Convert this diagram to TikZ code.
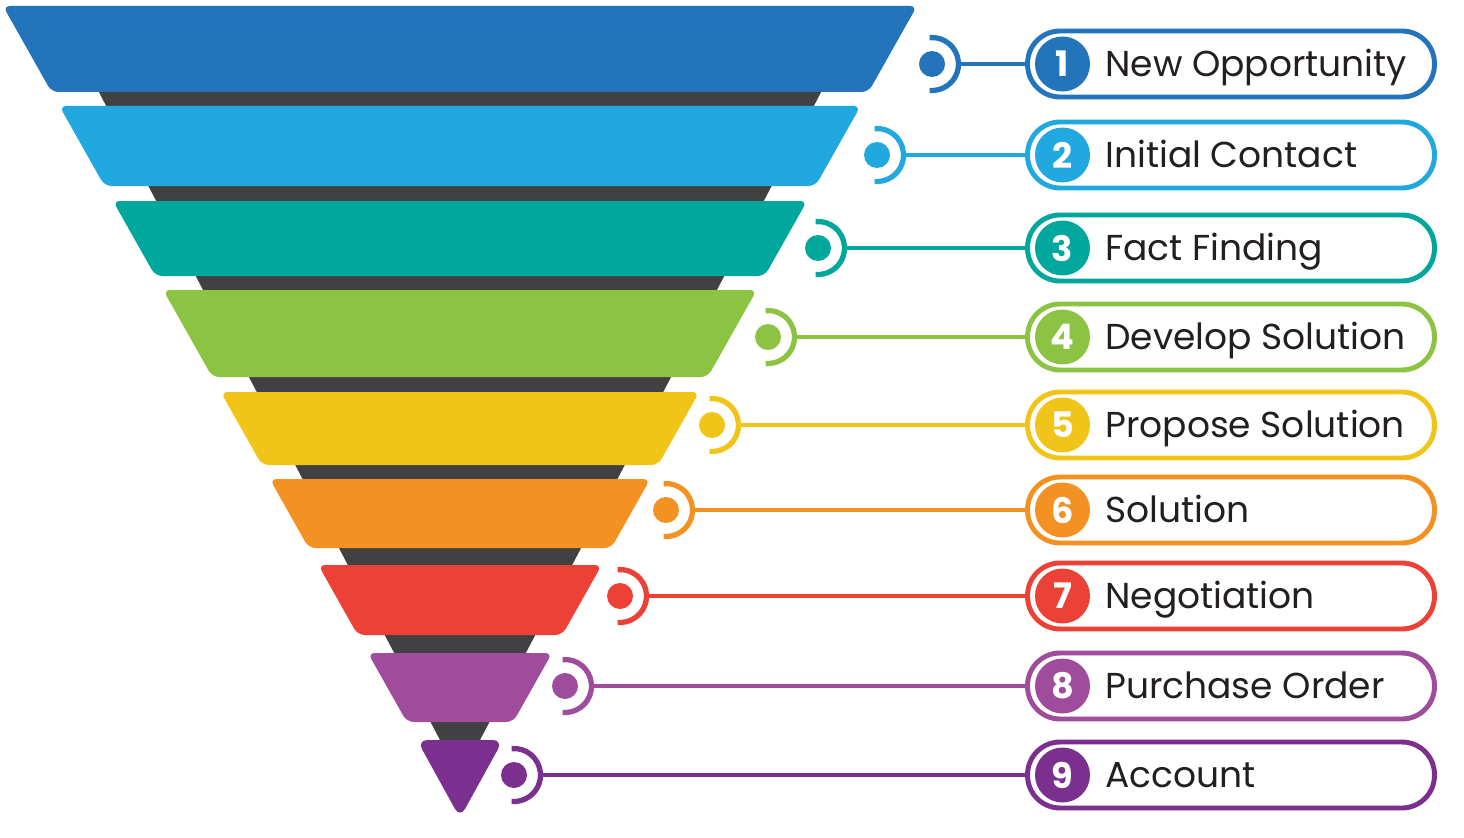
\documentclass[tikz,border=0pt]{standalone}
\usepackage{fontspec}
\setmainfont{Poppins}
\usepackage{tikz}

\definecolor{s1}{HTML}{2474BB}
\definecolor{s2}{HTML}{21A8DF}
\definecolor{s3}{HTML}{00A79D}
\definecolor{s4}{HTML}{8DC343}
\definecolor{s5}{HTML}{F1C419}
\definecolor{s6}{HTML}{F39223}
\definecolor{s7}{HTML}{EC4137}
\definecolor{s8}{HTML}{A04C9C}
\definecolor{s9}{HTML}{7B2F8E}
\definecolor{core}{HTML}{414042}
\definecolor{ink}{HTML}{231F20}

\tikzset{
  declare function={hw(\y)=457-0.564*(\y-6);},
  layer/.style={rounded corners=4pt},
  stagebox/.style={draw=#1, line width=2.8pt, fill=white, rounded corners=0.65cm,
    minimum width=8.14cm, minimum height=1.32cm, inner sep=0pt},
  badge/.style={circle, fill=#1, minimum size=1.1cm, inner sep=0pt, text=white,
    font=\bfseries\fontsize{20}{20}\selectfont},
  stagetext/.style={anchor=base west, inner sep=0pt, text=ink,
    font=\fontsize{20.5}{24}\selectfont},
}

\begin{document}
\begin{tikzpicture}[x=0.02cm,y=-0.02cm]
\useasboundingbox (0,0) rectangle (1464,838);
\fill[white] (0,0) rectangle (1464,838);
% dark core of the funnel
\fill[core] (82,60) -- (838,60) -- (460,778) -- cycle;
% funnel layers: number/top/bottom
\foreach \i/\t/\b in {1/6/92, 2/106/186, 3/201/276, 4/290/377, 5/392/465, 6/479/548, 7/565/635, 8/653/722}
\fill[s\i, layer] ({460-hw(\t)},\t) -- ({460+hw(\t)},\t) -- ({460+hw(\b)},\b) -- ({460-hw(\b)},\b) -- cycle;
\fill[s9, rounded corners=6pt] ({460-hw(740)},740) -- ({460+hw(740)},740) -- (460,818) -- cycle;
% markers, connectors and stage boxes
\foreach \i/\dx/\y/\txt in {1/932/64/New Opportunity, 2/877/155/Initial Contact, 3/818/248/Fact Finding, 4/768/337/Develop Solution, 5/712/425/Propose Solution, 6/666/510/Solution, 7/620/596/Negotiation, 8/565/686/Purchase Order, 9/514/775/Account}
{
\coordinate (d\i) at (\dx,\y);
\coordinate (a\i) at ({\dx+27},\y);
\fill[s\i] (d\i) circle (0.26cm);
\draw[s\i, line width=3pt] (d\i) ++(95:0.53cm) arc[start angle=95, end angle=-95, radius=0.53cm];
\node[stagebox=s\i] (box\i) at (1231,\y) {};
\draw[s\i, line width=2pt] (a\i) -- (box\i.west);
\node[badge=s\i] (num\i) at (1062.5,\y) {\i};
\node[stagetext] (txt\i) at (1105,{\y+12.5}) {\txt};
}
\end{tikzpicture}
\end{document}
